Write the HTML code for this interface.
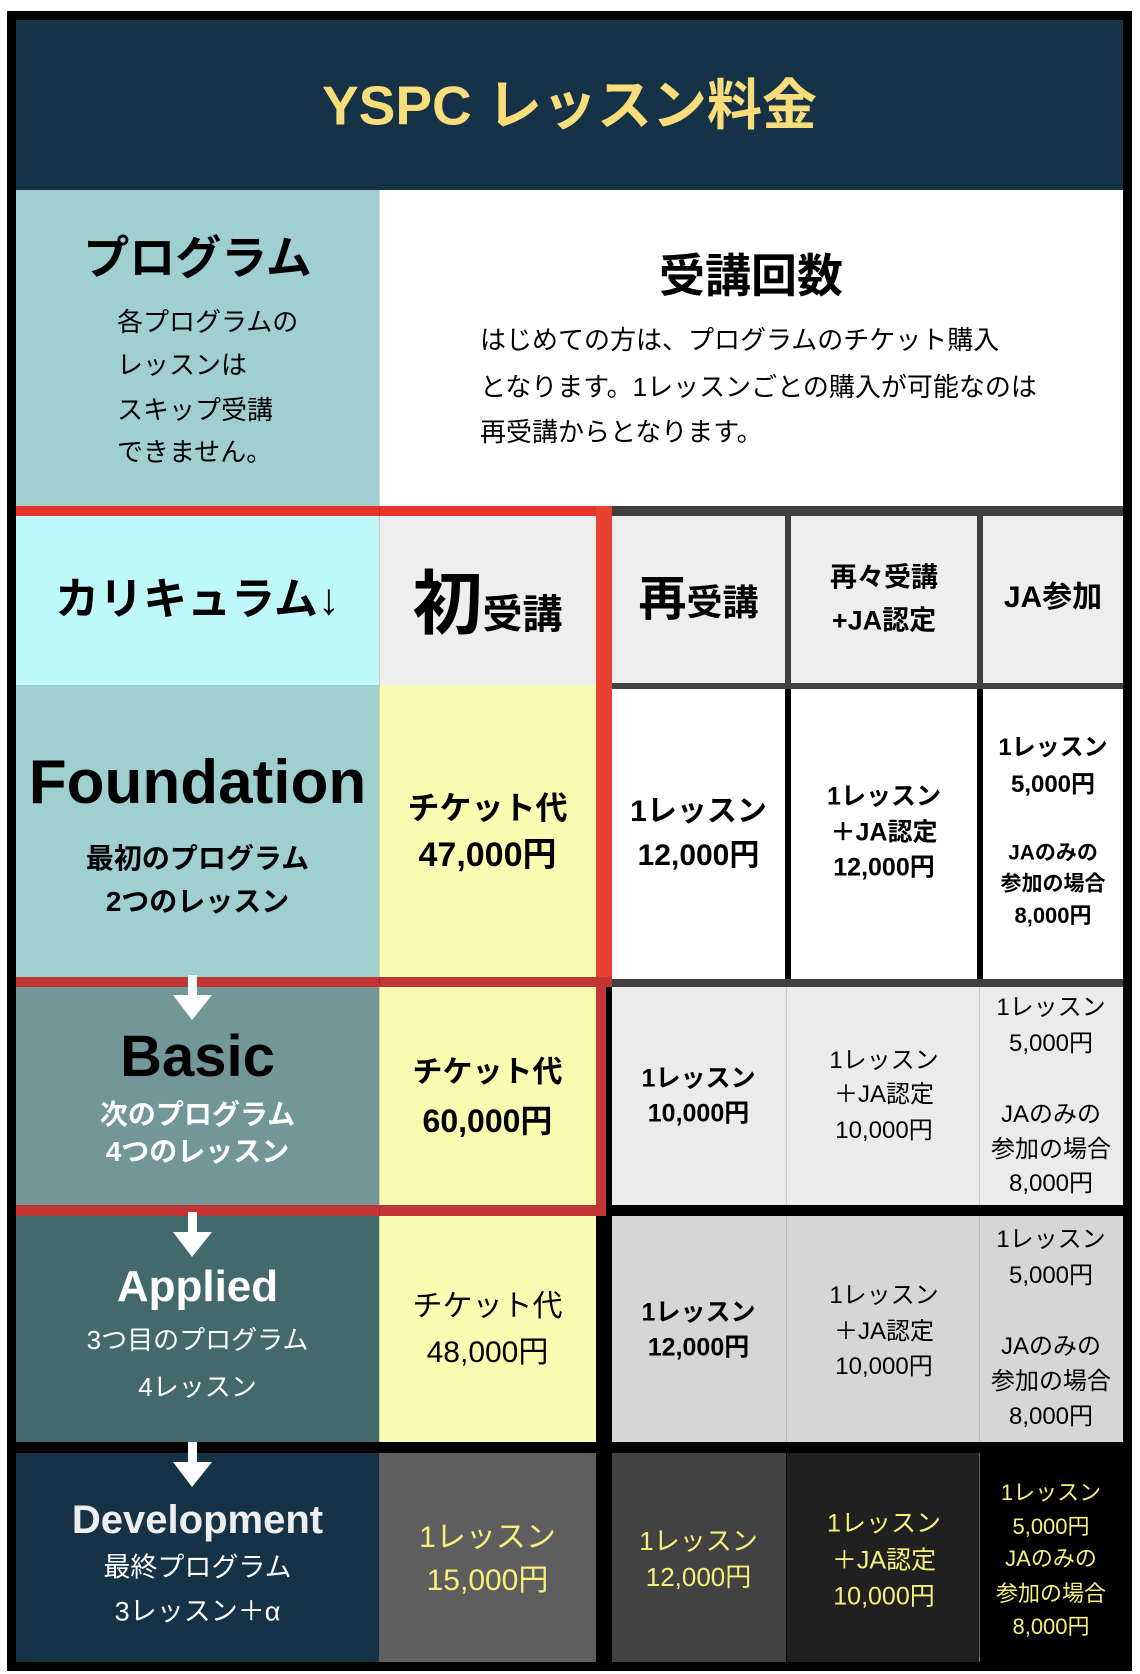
<!DOCTYPE html>
<html><head><meta charset="utf-8"><style>
*{margin:0;padding:0;box-sizing:border-box}
body{width:1140px;height:1674px;background:#fff;position:relative;overflow:hidden;font-family:"Liberation Sans","Noto Sans CJK JP",sans-serif}
.b{position:absolute}
.t{position:absolute;transform:translateY(-50%);text-align:center;white-space:nowrap;line-height:1}
.bd{font-weight:bold}
</style></head><body>
<div class="b" style="left:7px;top:11px;width:1125px;height:1660px;background:#000"></div>
<div class="b" style="left:16px;top:20px;width:1107px;height:170px;background:#163246"></div>
<div class="t bd" style="left:16px;width:1107px;top:106px;font-size:55px;color:#f8dd7a">YSPC レッスン料金</div>
<!-- program row -->
<div class="b" style="left:16px;top:190px;width:363px;height:316px;background:#a0cfd2"></div>
<div class="b" style="left:379px;top:190px;width:744px;height:316px;background:#fff"></div>
<div class="t bd" style="left:16px;width:363px;top:258px;font-size:46px">プログラム</div>
<div class="t" style="left:117px;text-align:left;top:322px;font-size:26px">各プログラムの</div>
<div class="t" style="left:117px;text-align:left;top:365px;font-size:26px">レッスンは</div>
<div class="t" style="left:117px;text-align:left;top:410px;font-size:26px">スキップ受講</div>
<div class="t" style="left:117px;text-align:left;top:452px;font-size:26px">できません。</div>
<div class="t bd" style="left:379px;width:744px;top:276px;font-size:46px">受講回数</div>
<div class="t" style="left:480px;text-align:left;top:340px;font-size:26px">はじめての方は、プログラムのチケット購入</div>
<div class="t" style="left:480px;text-align:left;top:387px;font-size:26px">となります。1レッスンごとの購入が可能なのは</div>
<div class="t" style="left:480px;text-align:left;top:432px;font-size:26px">再受講からとなります。</div>
<!-- header row -->
<div class="b" style="left:16px;top:516px;width:363px;height:169px;background:#bff8f9"></div>
<div class="b" style="left:379px;top:516px;width:217px;height:169px;background:#eee"></div>
<div class="b" style="left:612px;top:506px;width:511px;height:183px;background:#404040"></div>
<div class="b" style="left:612px;top:516px;width:173px;height:167px;background:#eee"></div>
<div class="b" style="left:791px;top:516px;width:186px;height:167px;background:#eee"></div>
<div class="b" style="left:983px;top:516px;width:140px;height:167px;background:#eee"></div>
<div class="t bd" style="left:16px;width:363px;top:600px;font-size:44px">カリキュラム↓</div>
<div class="t bd" style="left:379px;width:217px;top:604px;font-size:40px"><span style="font-size:70px">初</span>受講</div>
<div class="t bd" style="left:612px;width:173px;top:600px;font-size:36px"><span style="font-size:48px">再</span>受講</div>
<div class="t bd" style="left:791px;width:186px;top:578px;font-size:27px">再々受講</div>
<div class="t bd" style="left:791px;width:186px;top:621px;font-size:27px">+JA認定</div>
<div class="t bd" style="left:983px;width:140px;top:598px;font-size:30px">JA参加</div>
<!-- foundation -->
<div class="b" style="left:16px;top:685px;width:363px;height:292px;background:#a0cfd2"></div>
<div class="b" style="left:379px;top:685px;width:217px;height:292px;background:#f9fbb0"></div>
<div class="b" style="left:612px;top:689px;width:173px;height:290px;background:#fff"></div>
<div class="b" style="left:791px;top:689px;width:186px;height:290px;background:#fff"></div>
<div class="b" style="left:983px;top:689px;width:140px;height:290px;background:#fff"></div>
<div class="b" style="left:612px;top:979px;width:511px;height:8px;background:#404040"></div>
<div class="t bd" style="left:16px;width:363px;top:783px;font-size:62px">Foundation</div>
<div class="t bd" style="left:16px;width:363px;top:859px;font-size:28px">最初のプログラム</div>
<div class="t bd" style="left:16px;width:363px;top:902px;font-size:28px">2つのレッスン</div>
<div class="t bd" style="left:379px;width:217px;top:808px;font-size:32px">チケット代</div>
<div class="t bd" style="left:379px;width:217px;top:855px;font-size:34px">47,000円</div>
<div class="t bd" style="left:612px;width:173px;top:812px;font-size:30px">1レッスン</div>
<div class="t bd" style="left:612px;width:173px;top:856px;font-size:30px">12,000円</div>
<div class="t bd" style="left:791px;width:186px;top:797px;font-size:25px">1レッスン</div>
<div class="t bd" style="left:791px;width:186px;top:833px;font-size:25px">＋JA認定</div>
<div class="t bd" style="left:791px;width:186px;top:868px;font-size:25px">12,000円</div>
<div class="t bd" style="left:983px;width:140px;top:748px;font-size:24px">1レッスン</div>
<div class="t bd" style="left:983px;width:140px;top:785px;font-size:24px">5,000円</div>
<div class="t bd" style="left:983px;width:140px;top:853px;font-size:21px">JAのみの</div>
<div class="t bd" style="left:983px;width:140px;top:884px;font-size:21px">参加の場合</div>
<div class="t bd" style="left:983px;width:140px;top:916px;font-size:22px">8,000円</div>
<!-- basic -->
<div class="b" style="left:16px;top:987px;width:363px;height:218px;background:#739798"></div>
<div class="b" style="left:379px;top:987px;width:217px;height:218px;background:#f9fbb0"></div>
<div class="b" style="left:612px;top:987px;width:511px;height:218px;background:#ebebeb"></div>
<div class="b" style="left:786px;top:987px;width:1px;height:218px;background:#ccc"></div>
<div class="b" style="left:979px;top:987px;width:1px;height:218px;background:#ccc"></div>
<div class="t bd" style="left:16px;width:363px;top:1057px;font-size:58px">Basic</div>
<div class="t bd" style="left:16px;width:363px;top:1115px;font-size:28px;color:#fff">次のプログラム</div>
<div class="t bd" style="left:16px;width:363px;top:1152px;font-size:28px;color:#fff">4つのレッスン</div>
<div class="t bd" style="left:379px;width:217px;top:1073px;font-size:30px">チケット代</div>
<div class="t bd" style="left:379px;width:217px;top:1121px;font-size:32px">60,000円</div>
<div class="t bd" style="left:612px;width:173px;top:1079px;font-size:25px">1レッスン</div>
<div class="t bd" style="left:612px;width:173px;top:1114px;font-size:25px">10,000円</div>
<div class="t" style="left:791px;width:186px;top:1061px;font-size:24px">1レッスン</div>
<div class="t" style="left:791px;width:186px;top:1095px;font-size:24px">＋JA認定</div>
<div class="t" style="left:791px;width:186px;top:1131px;font-size:24px">10,000円</div>
<div class="t" style="left:981px;width:140px;top:1008px;font-size:24px">1レッスン</div>
<div class="t" style="left:981px;width:140px;top:1044px;font-size:24px">5,000円</div>
<div class="t" style="left:981px;width:140px;top:1115px;font-size:24px">JAのみの</div>
<div class="t" style="left:981px;width:140px;top:1150px;font-size:24px">参加の場合</div>
<div class="t" style="left:981px;width:140px;top:1184px;font-size:24px">8,000円</div>
<!-- applied -->
<div class="b" style="left:16px;top:1216px;width:363px;height:226px;background:#43696c"></div>
<div class="b" style="left:379px;top:1216px;width:217px;height:226px;background:#f9fbb0"></div>
<div class="b" style="left:612px;top:1216px;width:511px;height:226px;background:#d6d6d6"></div>
<div class="b" style="left:786px;top:1216px;width:1px;height:226px;background:#bbb"></div>
<div class="b" style="left:979px;top:1216px;width:1px;height:226px;background:#bbb"></div>
<div class="t bd" style="left:16px;width:363px;top:1287px;font-size:44px;color:#fff">Applied</div>
<div class="t" style="left:16px;width:363px;top:1340px;font-size:26px;color:#fff">3つ目のプログラム</div>
<div class="t" style="left:16px;width:363px;top:1387px;font-size:26px;color:#fff">4レッスン</div>
<div class="t" style="left:379px;width:217px;top:1307px;font-size:30px">チケット代</div>
<div class="t" style="left:379px;width:217px;top:1353px;font-size:30px">48,000円</div>
<div class="t bd" style="left:612px;width:173px;top:1313px;font-size:25px">1レッスン</div>
<div class="t bd" style="left:612px;width:173px;top:1348px;font-size:25px">12,000円</div>
<div class="t" style="left:791px;width:186px;top:1296px;font-size:24px">1レッスン</div>
<div class="t" style="left:791px;width:186px;top:1332px;font-size:24px">＋JA認定</div>
<div class="t" style="left:791px;width:186px;top:1367px;font-size:24px">10,000円</div>
<div class="t" style="left:981px;width:140px;top:1240px;font-size:24px">1レッスン</div>
<div class="t" style="left:981px;width:140px;top:1276px;font-size:24px">5,000円</div>
<div class="t" style="left:981px;width:140px;top:1347px;font-size:24px">JAのみの</div>
<div class="t" style="left:981px;width:140px;top:1382px;font-size:24px">参加の場合</div>
<div class="t" style="left:981px;width:140px;top:1417px;font-size:24px">8,000円</div>
<!-- development -->
<div class="b" style="left:16px;top:1453px;width:363px;height:209px;background:#163246"></div>
<div class="b" style="left:379px;top:1453px;width:217px;height:209px;background:#5e5e5e"></div>
<div class="b" style="left:612px;top:1453px;width:174px;height:209px;background:#424242"></div>
<div class="b" style="left:787px;top:1453px;width:192px;height:209px;background:#202020"></div>
<div class="b" style="left:979px;top:1453px;width:1px;height:209px;background:#666"></div>
<div class="t bd" style="left:16px;width:363px;top:1520px;font-size:40px;color:#eee">Development</div>
<div class="t" style="left:16px;width:363px;top:1568px;font-size:27px;color:#fff">最終プログラム</div>
<div class="t" style="left:16px;width:363px;top:1612px;font-size:27px;color:#fff">3レッスン＋α</div>
<div class="t" style="left:379px;width:217px;top:1538px;font-size:30px;color:#f8f07a">1レッスン</div>
<div class="t" style="left:379px;width:217px;top:1581px;font-size:30px;color:#f8f07a">15,000円</div>
<div class="t" style="left:612px;width:173px;top:1541px;font-size:26px;color:#f8f07a">1レッスン</div>
<div class="t" style="left:612px;width:173px;top:1577px;font-size:26px;color:#f8f07a">12,000円</div>
<div class="t" style="left:791px;width:186px;top:1524px;font-size:25px;color:#f8f07a">1レッスン</div>
<div class="t" style="left:791px;width:186px;top:1561px;font-size:25px;color:#f8f07a">＋JA認定</div>
<div class="t" style="left:791px;width:186px;top:1597px;font-size:25px;color:#f8f07a">10,000円</div>
<div class="t" style="left:981px;width:140px;top:1493px;font-size:22px;color:#f8f07a">1レッスン</div>
<div class="t" style="left:981px;width:140px;top:1527px;font-size:22px;color:#f8f07a">5,000円</div>
<div class="t" style="left:981px;width:140px;top:1559px;font-size:22px;color:#f8f07a">JAのみの</div>
<div class="t" style="left:981px;width:140px;top:1594px;font-size:22px;color:#f8f07a">参加の場合</div>
<div class="t" style="left:981px;width:140px;top:1627px;font-size:22px;color:#f8f07a">8,000円</div>
<!-- red frame -->
<div class="b" style="left:16px;top:506px;width:596px;height:10px;background:#e8352a"></div>
<div class="b" style="left:596px;top:506px;width:16px;height:481px;background:#e8412f"></div>
<div class="b" style="left:16px;top:977px;width:596px;height:10px;background:#c13535"></div>
<div class="b" style="left:596px;top:987px;width:10px;height:229px;background:#c13535"></div>
<div class="b" style="left:16px;top:1205px;width:590px;height:11px;background:#c13535"></div>
<div class="b" style="left:379px;top:190px;width:1px;height:1262px;background:rgba(0,0,0,.15)"></div>
<!-- arrows -->
<svg class="b" style="left:0;top:0" width="1140" height="1674">
<g fill="#fff">
<rect x="188" y="975" width="9" height="22"/><polygon points="173,995 212,995 192,1020"/>
<rect x="188" y="1212" width="9" height="22"/><polygon points="173,1232 212,1232 192,1257"/>
<rect x="188" y="1442" width="9" height="22"/><polygon points="173,1462 212,1462 192,1487"/>
</g></svg>
</body></html>
